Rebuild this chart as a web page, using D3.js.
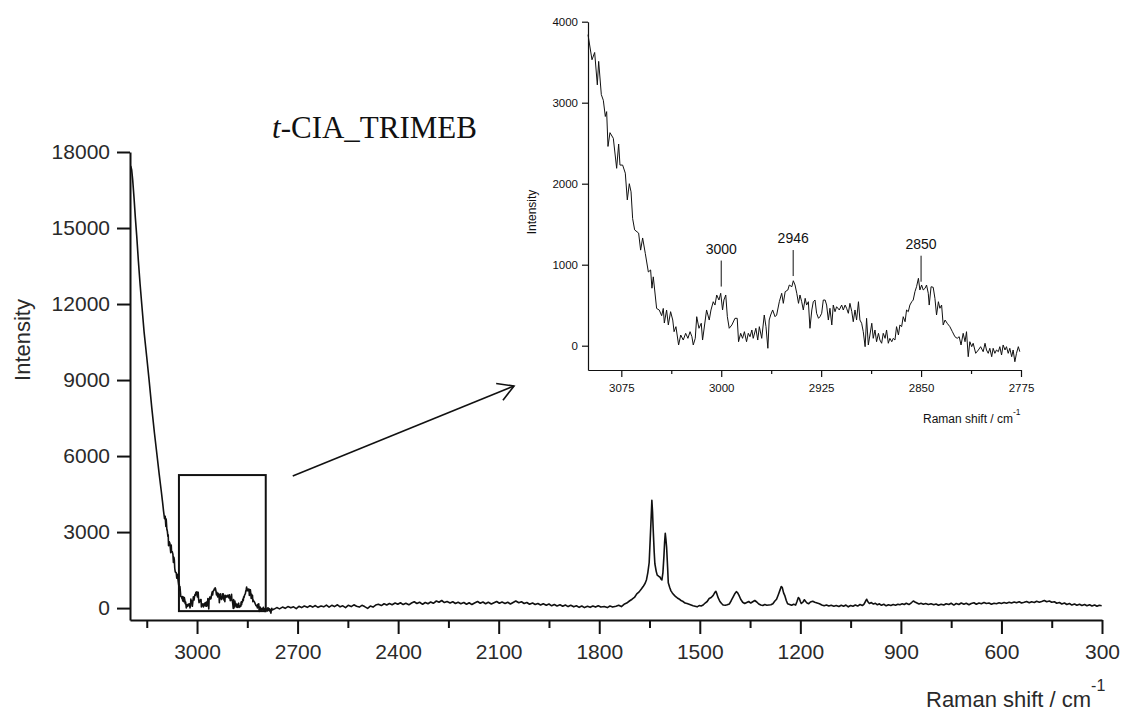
<!DOCTYPE html>
<html><head><meta charset="utf-8">
<script src="https://cdn.jsdelivr.net/npm/d3@7"></script>
<style>body{margin:0;background:#fff} svg{display:block}</style>
</head><body>
<svg id="chart" width="1121" height="714"></svg>
<script>
// ---------- DATA (Raman shift cm-1, intensity) ----------
const risePoints = [[3198,17450],[3195,17300],[3192,16900],[3188,16200],[3184,15400],[3180,14700],[3175,13700],[3170,12800],[3165,12000],[3158,10900],[3150,9900],[3143,9000],[3135,7900],[3127,6900],[3120,6100],[3113,5300],[3107,4650],[3103,4200]];

const chStretchPoints = [[3100,3840],[3097,3530],[3095,3620],[3093,3220],[3092,3510],[3090,3100],[3088.5,3030],[3087,2830],[3086,2890],[3085,2460],[3083.5,2630],[3081,2560],[3078.5,2190],[3077,2490],[3076,2230],[3074,2230],[3072,2130],[3070.5,1800],[3069,2000],[3067.7,1900],[3066.5,1570],[3065,1430],[3062,1390],[3060.5,1180],[3059,1330],[3057,1140],[3054.7,910],[3053,935],[3052,710],[3051,850],[3048.5,460],[3046.5,440],[3044.7,370],[3043.5,460],[3042.7,280],[3041,440],[3039.7,256],[3038,420],[3036.4,317],[3035.4,173],[3034,235],[3032,9],[3030.4,132],[3028.5,70],[3026.7,153],[3025,91],[3023.4,173],[3022,111],[3021,9],[3019.5,91],[3018.4,358],[3016.7,215],[3015,277],[3014,70],[3012,317],[3011,441],[3009,317],[3007.7,441],[3006,543],[3004.7,502],[3003.4,626],[3001.7,564],[3000.4,647],[2999,441],[2998,564],[2996.6,626],[2995.4,358],[2994,215],[2992,256],[2989.7,338],[2988,338],[2987,49],[2985.4,153],[2984,91],[2982.6,173],[2981,49],[2979.7,153],[2978.4,111],[2977,194],[2976,91],[2974,215],[2972.6,70],[2971.4,235],[2969.6,91],[2967.7,379],[2966.4,235],[2965,-32],[2964,317],[2962.9,379],[2961.4,441],[2959.6,358],[2958.4,379],[2956.4,543],[2954.6,647],[2953.4,523],[2952,667],[2950,688],[2948.9,749],[2947,728],[2945.9,802],[2944.6,749],[2943.3,647],[2942,523],[2940.9,626],[2939.6,543],[2938.4,441],[2937,585],[2935.9,502],[2934.6,543],[2933.4,215],[2932,441],[2930.9,543],[2929.6,564],[2928.4,400],[2927,338],[2925.9,358],[2924.6,400],[2923.4,564],[2922,564],[2920.9,502],[2919.6,317],[2918.4,462],[2917,256],[2915.9,502],[2914.6,420],[2913.4,481],[2911.4,441],[2909.6,502],[2908.4,441],[2907,502],[2905.9,462],[2904.6,400],[2903.4,523],[2902,420],[2900.9,296],[2899.6,441],[2898.4,317],[2897,543],[2895.9,317],[2894.6,277],[2893.4,173],[2892,-12],[2890.9,338],[2889.6,9],[2888.4,132],[2887,277],[2885.9,91],[2884.6,194],[2883.4,49],[2882,153],[2880.9,70],[2879.6,30],[2878.4,153],[2877,91],[2875.9,194],[2874.6,30],[2873.4,91],[2872,49],[2870.9,91],[2869.6,70],[2868.4,235],[2867,132],[2865.9,256],[2864.6,235],[2863.4,358],[2862,296],[2860.9,441],[2859.6,420],[2858.4,502],[2857,543],[2855.9,564],[2854.6,667],[2853.4,728],[2852,832],[2850.9,688],[2849.6,749],[2848.4,688],[2847,709],[2845.9,749],[2844.6,647],[2843.9,502],[2842.5,728],[2840.9,721],[2839.6,585],[2838.4,379],[2837,543],[2835.9,462],[2834.6,502],[2833.4,256],[2832,317],[2830.4,277],[2828.4,235],[2826.5,173],[2824.6,111],[2822.9,91],[2821.4,111],[2820,9],[2818.4,153],[2817,49],[2815.9,173],[2814.6,-136],[2813.4,49],[2812,-12],[2810.9,30],[2809,-94],[2807,-53],[2805.3,-12],[2803.4,-74],[2802,30],[2800.9,-53],[2799.6,-94],[2798.4,-32],[2797,-136],[2795.9,-32],[2794.6,-94],[2793.4,-53],[2792,-74],[2790.9,-12],[2789.6,-115],[2788.4,9],[2787,-53],[2785.9,-12],[2784.6,-94],[2783.4,-32],[2782,-136],[2780.9,-53],[2779.6,-198],[2778.4,-94],[2777,-12],[2775.9,-74]];

const baselinePoints = [[2770,-40],[2762,20],[2754,-30],[2745,40],[2737,-10],[2729,60],[2720,10],[2712,50],[2704,-20],[2696,70],[2688,20],[2680,80],[2671,30],[2663,90],[2655,40],[2647,100],[2639,30],[2630,80],[2622,50],[2614,120],[2606,40],[2598,110],[2590,60],[2581,130],[2573,50],[2565,90],[2557,20],[2549,110],[2540,60],[2532,130],[2524,70],[2516,40],[2508,110],[2500,60],[2491,-10],[2483,80],[2475,40],[2467,120],[2459,150],[2450,100],[2442,170],[2434,120],[2426,180],[2418,130],[2409,200],[2401,150],[2393,210],[2385,140],[2377,190],[2368,130],[2360,200],[2352,250],[2344,180],[2336,230],[2327,150],[2319,220],[2311,170],[2303,240],[2295,190],[2286,280],[2278,230],[2270,300],[2262,220],[2254,260],[2245,200],[2237,250],[2229,180],[2221,230],[2213,170],[2204,220],[2196,150],[2188,210],[2180,140],[2172,200],[2163,260],[2155,190],[2147,240],[2139,170],[2131,230],[2122,160],[2114,210],[2106,260],[2098,190],[2090,240],[2081,180],[2073,230],[2065,160],[2057,220],[2049,280],[2040,210],[2032,250],[2024,180],[2016,220],[2008,150],[1999,200],[1991,140],[1983,180],[1975,120],[1967,170],[1958,110],[1950,160],[1942,90],[1934,140],[1926,80],[1917,130],[1909,70],[1901,120],[1893,60],[1885,110],[1876,50],[1868,90],[1860,30],[1852,80],[1844,20],[1835,70],[1827,30],[1819,80],[1811,40],[1803,90],[1795,40]];

const fingerprintPoints = [[1785,60],[1776,20],[1768,80],[1760,40],[1750,70],[1742,110],[1734,60],[1726,150],[1718,200],[1710,280],[1702,350],[1695,420],[1688,560],[1681,640],[1675,740],[1669,850],[1663,980],[1659,1120],[1655,1400],[1651,1800],[1648,2700],[1645,3600],[1643,4250],[1641,3800],[1639,3100],[1636,2200],[1634,1750],[1630,1450],[1627,1300],[1622,1250],[1619,1230],[1616,1150],[1613,1110],[1610,1400],[1607,2050],[1605,2600],[1603,2950],[1601,2700],[1599,2400],[1596,1600],[1594,1000],[1590,820],[1586,680],[1582,600],[1577,520],[1572,450],[1567,400],[1562,360],[1556,300],[1550,260],[1544,200],[1538,180],[1532,150],[1526,120],[1520,90],[1514,70],[1508,50],[1502,100],[1496,80],[1490,120],[1484,200],[1478,260],[1472,380],[1466,420],[1460,500],[1455,620],[1452,660],[1449,560],[1445,400],[1440,260],[1435,180],[1430,120],[1424,110],[1418,130],[1412,160],[1406,300],[1400,450],[1395,580],[1391,650],[1387,600],[1383,500],[1378,350],[1372,230],[1366,180],[1360,220],[1354,260],[1348,200],[1342,250],[1336,300],[1330,240],[1324,160],[1318,120],[1312,100],[1306,140],[1300,110],[1294,120],[1288,130],[1282,170],[1276,280],[1271,350],[1266,520],[1261,700],[1257,850],[1254,820],[1250,600],[1246,480],[1242,300],[1238,170],[1232,140],[1226,110],[1220,150],[1214,120],[1210,260],[1206,420],[1203,380],[1200,260],[1197,180],[1192,240],[1188,330],[1184,260],[1180,200],[1175,170],[1170,240],[1163,270],[1157,230],[1150,200],[1143,170],[1136,120],[1129,90],[1122,120],[1115,80],[1108,110],[1100,70],[1093,100],[1085,60],[1078,110],[1071,70],[1064,120],[1057,50],[1050,100],[1043,70],[1036,120],[1029,80],[1022,140],[1015,100],[1010,160],[1005,280],[1002,350],[998,240],[994,180],[988,220],[982,160],[976,190],[970,130],[964,170],[958,110],[951,150],[944,90],[937,130],[930,100],[923,140],[916,110],[909,150],[903,130],[896,170],[890,140],[884,190],[876,140],[868,220],[863,280],[858,240],[852,200],[846,160],[840,190],[833,150],[826,180],[818,140],[810,170],[802,130],[795,160],[788,110],[780,150],[772,120],[765,170],[757,140],[750,190],[742,120],[735,180],[727,140],[720,200],[712,150],[705,190],[697,130],[690,180],[682,210],[675,150],[667,200],[660,170],[652,220],[645,180],[637,200],[630,150],[622,190],[615,170],[607,210],[600,180],[592,220],[585,190],[577,230],[570,200],[562,240],[555,210],[547,250],[540,200],[532,230],[525,260],[517,210],[510,250],[502,220],[495,270],[487,230],[480,260],[472,300],[465,250],[457,280],[450,230],[442,250],[435,190],[427,220],[420,160],[412,200],[405,140],[397,180],[390,120],[382,160],[375,110],[367,150],[360,100],[352,140],[345,90],[337,130],[330,80],[322,120],[315,70],[308,110],[301,90]];

const mainXTicks = [3000,2700,2400,2100,1800,1500,1200,900,600,300];
const mainXMinorTicks = [3150,2850,2550,2250,1950,1650,1350,1050,750,450];
const mainYTicks = [0,3000,6000,9000,12000,15000,18000];
const mainXDomain = [3200,300];
const mainYDomain = [-470,18000];

const insetXTicks = [3075,3000,2925,2850,2775];
const insetXMinorTicks = [3037.5,2962.5,2887.5,2812.5];
const insetYTicks = [0,1000,2000,3000,4000];
const insetXDomain = [3100,2775];
const insetYDomain = [-300,4000];

const zoomBoxShift = [3054,2795];
const zoomBoxIntensity = [-120,5250];

const peakLabels = [3000,2946,2850];
const peakLabelBase = [730,860,790];

// ---------- DRAW ----------
const svg = d3.select('#chart');
const SANS = '"Liberation Sans", Arial, sans-serif';
const SERIF = '"Liberation Serif", "Times New Roman", serif';

const spectrum = risePoints.concat(chStretchPoints, baselinePoints, fingerprintPoints);

// main chart
const x = d3.scaleLinear().domain(mainXDomain).range([130,1102]);
const y = d3.scaleLinear().domain(mainYDomain).range([620,152]);

svg.append('path').datum(spectrum)
  .attr('fill','none').attr('stroke','#111').attr('stroke-width',1.6).attr('stroke-linejoin','round')
  .attr('d', d3.line().x(d=>x(d[0])).y(d=>y(d[1])));

function styleAxis(g, sw, fs, col){
  g.select('.domain').attr('stroke','#111').attr('stroke-width',sw);
  g.selectAll('.tick line').attr('stroke','#111').attr('stroke-width',sw);
  g.selectAll('.tick text').attr('fill',col).style('font-family',SANS).style('font-size',fs+'px');
}

const gx = svg.append('g').attr('transform','translate(0,620)')
  .call(d3.axisBottom(x).tickValues(mainXTicks).tickSize(14).tickPadding(10).tickSizeOuter(0).tickFormat(d3.format('d')));
styleAxis(gx, 2, 21, '#2a2a2a');
const gxm = svg.append('g').attr('transform','translate(0,620)')
  .call(d3.axisBottom(x).tickValues(mainXMinorTicks).tickSize(8).tickFormat(''));
gxm.select('.domain').remove();
gxm.selectAll('.tick line').attr('stroke','#111').attr('stroke-width',2);

const gy = svg.append('g').attr('transform','translate(130,0)')
  .call(d3.axisLeft(y).tickValues(mainYTicks).tickSize(13).tickPadding(7).tickSizeOuter(0).tickFormat(d3.format('d')));
styleAxis(gy, 2, 21, '#2a2a2a');

// axis titles
svg.append('text').attr('transform','translate(29.5,340) rotate(-90)')
  .attr('text-anchor','middle').style('font-family',SANS).style('font-size','22px').attr('fill','#2a2a2a')
  .text('Intensity');
const xl = svg.append('text').attr('x',926).attr('y',707)
  .style('font-family',SANS).style('font-size','22px').attr('fill','#2a2a2a').text('Raman shift / cm');
xl.append('tspan').attr('dy',-16).style('font-size','16px').text('-1');

// title
const t = svg.append('text').attr('x',272).attr('y',138)
  .style('font-family',SERIF).style('font-size','31px').attr('fill','#111');
t.append('tspan').style('font-style','italic').text('t');
t.append('tspan').text('-CIA_TRIMEB');

// zoom box
svg.append('rect')
  .attr('x', x(zoomBoxShift[0])).attr('y', y(zoomBoxIntensity[1]))
  .attr('width', x(zoomBoxShift[1]) - x(zoomBoxShift[0]))
  .attr('height', y(zoomBoxIntensity[0]) - y(zoomBoxIntensity[1]))
  .attr('fill','none').attr('stroke','#111').attr('stroke-width',2);

// inset
const ix = d3.scaleLinear().domain(insetXDomain).range([588,1021]);
const iy = d3.scaleLinear().domain(insetYDomain).range([370,21.7]);

// arrow from box to inset
const ax0 = x(zoomBoxShift[1]) + 27, ay0 = y(zoomBoxIntensity[1]) + 1;
const ax1 = ix.range()[0] - 74, ay1 = iy.range()[0] + 16;
const ang = Math.atan2(ay1-ay0, ax1-ax0);
const hl = 18, ha = Math.PI/6;
svg.append('line').attr('x1',ax0).attr('y1',ay0).attr('x2',ax1).attr('y2',ay1)
  .attr('stroke','#111').attr('stroke-width',1.6);
svg.append('path')
  .attr('d', `M${ax1-hl*Math.cos(ang-ha)},${ay1-hl*Math.sin(ang-ha)} L${ax1},${ay1} L${ax1-hl*Math.cos(ang+ha)},${ay1-hl*Math.sin(ang+ha)}`)
  .attr('fill','none').attr('stroke','#111').attr('stroke-width',1.6);

const insetData = chStretchPoints;
svg.append('path').datum(insetData)
  .attr('fill','none').attr('stroke','#111').attr('stroke-width',1).attr('stroke-linejoin','round')
  .attr('d', d3.line().x(d=>ix(d[0])).y(d=>iy(d[1])));

const igx = svg.append('g').attr('transform','translate(0,370)')
  .call(d3.axisBottom(ix).tickValues(insetXTicks).tickSize(7).tickPadding(7).tickSizeOuter(0).tickFormat(d3.format('d')));
styleAxis(igx, 1.2, 11.5, '#111');
const igxm = svg.append('g').attr('transform','translate(0,370)')
  .call(d3.axisBottom(ix).tickValues(insetXMinorTicks).tickSize(4).tickFormat(''));
igxm.select('.domain').remove();
igxm.selectAll('.tick line').attr('stroke','#111').attr('stroke-width',1.2);

const igy = svg.append('g').attr('transform','translate(588,0)')
  .call(d3.axisLeft(iy).tickValues(insetYTicks).tickSize(6).tickPadding(4).tickSizeOuter(0).tickFormat(d3.format('d')));
styleAxis(igy, 1.2, 11.5, '#111');

svg.append('text').attr('transform','translate(535.5,212) rotate(-90)')
  .attr('text-anchor','middle').style('font-family',SANS).style('font-size','12px').attr('fill','#111')
  .text('Intensity');
const ixl = svg.append('text').attr('x',923).attr('y',423)
  .style('font-family',SANS).style('font-size','12px').attr('fill','#111').text('Raman shift / cm');
ixl.append('tspan').attr('dy',-8).style('font-size','8.5px').text('-1');

// peak labels
peakLabels.forEach((p,i)=>{
  const px = ix(p), py = iy(peakLabelBase[i]);
  svg.append('line').attr('x1',px).attr('x2',px).attr('y1',py).attr('y2',py-26)
    .attr('stroke','#111').attr('stroke-width',1);
  svg.append('text').attr('x',px).attr('y',py-33).attr('text-anchor','middle')
    .style('font-family',SANS).style('font-size','14px').attr('fill','#111').text(d3.format('d')(p));
});
</script>
</body></html>
